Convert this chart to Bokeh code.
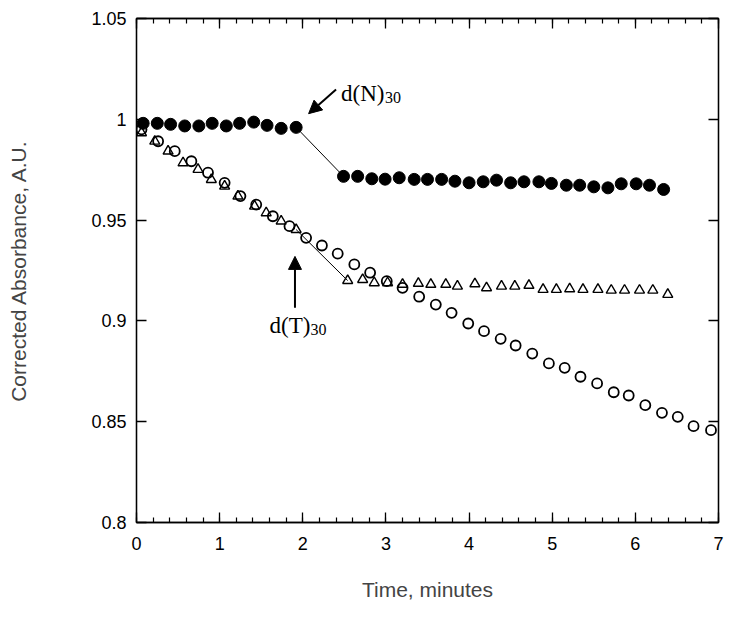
from bokeh.plotting import figure
from bokeh.models import (Range1d, LinearAxis, FixedTicker, Arrow, NormalHead, Label)
from bokeh.embed import file_html
from bokeh.resources import INLINE

# ---- data ----
# d(N)30 : filled circles
t_N = [0.08, 0.25, 0.41, 0.58, 0.75, 0.91, 1.08, 1.24, 1.41, 1.57, 1.74, 1.92,
       2.49, 2.66, 2.83, 2.99, 3.16, 3.34, 3.50, 3.67, 3.83, 4.00, 4.17, 4.33,
       4.50, 4.66, 4.84, 4.99, 5.17, 5.33, 5.50, 5.67, 5.83, 6.01, 6.17, 6.34]
a_N = [0.9980, 0.9980, 0.9975, 0.9967, 0.9967, 0.9980, 0.9967, 0.9980, 0.9986, 0.9970, 0.9955, 0.9960,
       0.9717, 0.9717, 0.9705, 0.9703, 0.9710, 0.9702, 0.9702, 0.9702, 0.9693, 0.9685, 0.9690, 0.9698,
       0.9685, 0.9690, 0.9690, 0.9682, 0.9673, 0.9673, 0.9665, 0.9660, 0.9680, 0.9680, 0.9673, 0.9652]

# d(T)30 : open triangles
t_T = [0.06, 0.22, 0.38, 0.56, 0.74, 0.90, 1.06, 1.22, 1.42, 1.56, 1.74, 1.92,
       2.54, 2.72, 2.86, 3.02, 3.20, 3.39, 3.54, 3.72, 3.86, 4.07, 4.21, 4.39,
       4.55, 4.72, 4.89, 5.05, 5.21, 5.37, 5.55, 5.71, 5.87, 6.05, 6.21, 6.39]
a_T = [0.9933, 0.9891, 0.9842, 0.9784, 0.9751, 0.9701, 0.9668, 0.9619, 0.9569, 0.9536, 0.9495, 0.9453,
       0.9200, 0.9205, 0.9189, 0.9189, 0.9181, 0.9186, 0.9181, 0.9181, 0.9172, 0.9184, 0.9164, 0.9172,
       0.9172, 0.9176, 0.9156, 0.9156, 0.9159, 0.9156, 0.9156, 0.9152, 0.9152, 0.9152, 0.9152, 0.9131]

# third series : open circles
t_C = [0.06, 0.26, 0.46, 0.66, 0.86, 1.06, 1.25, 1.44, 1.64, 1.84, 2.04, 2.23,
       2.42, 2.62, 2.81, 3.01, 3.20, 3.40, 3.60, 3.79, 3.99, 4.18, 4.38, 4.56,
       4.76, 4.96, 5.15, 5.34, 5.54, 5.74, 5.92, 6.12, 6.32, 6.51, 6.70, 6.91]
a_C = [0.9950, 0.9891, 0.9842, 0.9792, 0.9735, 0.9685, 0.9619, 0.9577, 0.9519, 0.9470, 0.9412, 0.9374,
       0.9334, 0.9280, 0.9239, 0.9197, 0.9164, 0.9120, 0.9081, 0.9040, 0.8987, 0.8949, 0.8911, 0.8878,
       0.8838, 0.8789, 0.8767, 0.8723, 0.8690, 0.8646, 0.8630, 0.8582, 0.8544, 0.8524, 0.8478, 0.8458]

gap_index = 11  # last point before the break in d(N)30 and d(T)30

x_ticks = [0, 1, 2, 3, 4, 5, 6, 7]
x_minor = [i / 5 for i in range(36)]
y_ticks = [0.8, 0.85, 0.9, 0.95, 1.0, 1.05]
y_tick_labels = ["0.8", "0.85", "0.9", "0.95", "1", "1.05"]

x_label = "Time, minutes"
y_label = "Corrected Absorbance, A.U."

# ---- figure ----
p = figure(width=745, height=612, output_backend="svg", toolbar_location=None,
           x_range=Range1d(0, 7), y_range=Range1d(0.8, 1.05),
           x_axis_location=None, y_axis_location=None,
           min_border_left=136, min_border_right=27, min_border_top=18, min_border_bottom=90,
           frame_width=582, frame_height=504)
p.background_fill_color = "white"
p.border_fill_color = "white"
p.outline_line_color = "black"
p.outline_line_width = 1.3
p.xgrid.visible = False
p.ygrid.visible = False

TICK_FONT = "Liberation Sans"
y_overrides = {v: s for v, s in zip(y_ticks, y_tick_labels)}

def style_axis(ax, labels=True, minor=False):
    ax.axis_line_color = "black"
    ax.axis_line_width = 1.3
    ax.major_tick_in = 10
    ax.major_tick_out = 0
    ax.major_tick_line_color = "black"
    ax.major_tick_line_width = 1.3
    if minor:
        ax.minor_tick_in = 5
        ax.minor_tick_out = 0
        ax.minor_tick_line_color = "black"
        ax.minor_tick_line_width = 1.2
    else:
        ax.minor_tick_line_color = None
    ax.major_label_text_font = TICK_FONT
    if labels:
        ax.major_label_text_color = "black"
        ax.major_label_text_font_size = "18px"
    else:
        ax.major_label_text_color = None
        ax.major_label_text_font_size = "1px"
        ax.major_label_standoff = 0

bottom = LinearAxis(ticker=FixedTicker(ticks=x_ticks, minor_ticks=x_minor))
style_axis(bottom, True, True)
bottom.major_label_standoff = 14
bottom.axis_label = x_label
bottom.axis_label_text_font = TICK_FONT
bottom.axis_label_text_font_size = "21px"
bottom.axis_label_text_font_style = "normal"
bottom.axis_label_standoff = 25
p.add_layout(bottom, "below")

top = LinearAxis(ticker=FixedTicker(ticks=x_ticks, minor_ticks=x_minor))
style_axis(top, False, True)
p.add_layout(top, "above")

left = LinearAxis(ticker=FixedTicker(ticks=y_ticks))
style_axis(left, True, False)
left.major_label_overrides = y_overrides
left.major_label_standoff = 10
left.axis_label = y_label
left.axis_label_text_font = TICK_FONT
left.axis_label_text_font_size = "21px"
left.axis_label_text_font_style = "normal"
left.axis_label_standoff = 58
p.add_layout(left, "left")

right = LinearAxis(ticker=FixedTicker(ticks=y_ticks))
style_axis(right, False, False)
p.add_layout(right, "right")

# connecting segments across the break
g = gap_index
p.line(t_N[g:g + 2], a_N[g:g + 2], line_color="black", line_width=1)
p.line(t_T[g:g + 2], a_T[g:g + 2], line_color="black", line_width=1)

p.scatter(t_C, a_C, marker="circle", size=10, fill_color="white", fill_alpha=0,
          line_color="black", line_width=1.8)
p.scatter(t_T, a_T, marker="triangle", size=10, fill_color="white", fill_alpha=0,
          line_color="black", line_width=1.4)
p.scatter(t_N, a_N, marker="circle", size=12, fill_color="black", line_color="black")

# annotations
SERIF = "Liberation Serif"
p.add_layout(Arrow(end=NormalHead(size=13, fill_color="black", line_color="black"),
                   x_start=2.40, y_start=1.0148, x_end=2.07, y_end=1.0028,
                   line_color="black", line_width=2))
p.add_layout(Label(x=2.46, y=1.0128, text="d(N)", text_font=SERIF, text_font_size="23px",
                   text_baseline="alphabetic", text_color="black"))
p.add_layout(Label(x=2.46, y=1.0128, x_offset=44, y_offset=-4, text="30", text_font=SERIF,
                   text_font_size="16px", text_baseline="alphabetic", text_color="black"))

p.add_layout(Arrow(end=NormalHead(size=13, fill_color="black", line_color="black"),
                   x_start=1.906, y_start=0.9065, x_end=1.906, y_end=0.932,
                   line_color="black", line_width=2))
p.add_layout(Label(x=1.60, y=0.8977, text="d(T)", text_font=SERIF, text_font_size="23px",
                   text_baseline="alphabetic", text_color="black"))
p.add_layout(Label(x=1.60, y=0.8977, x_offset=41, y_offset=-4, text="30", text_font=SERIF,
                   text_font_size="16px", text_baseline="alphabetic", text_color="black"))

open("out.html", "w").write(file_html(p, INLINE))
